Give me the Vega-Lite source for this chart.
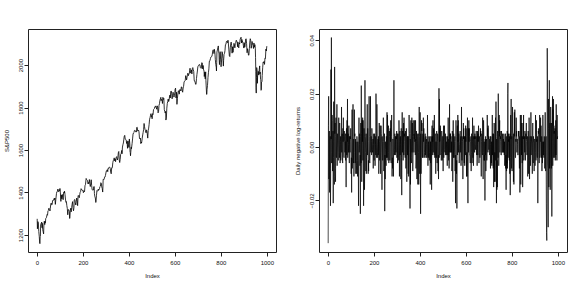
{
"$schema": "https://vega.github.io/schema/vega-lite/v6.json",
"padding": {"left": 2, "top": 28, "right": 0, "bottom": 0},
"spacing": 16,
"config": {
 "view": {"stroke": "#222", "strokeWidth": 1},
 "axis": {"domain": false, "grid": false, "ticks": true, "tickSize": 4, "tickColor": "#222", "tickWidth": 1, "labelFont": "Liberation Sans", "labelFontSize": 6, "labelColor": "#111", "titleFont": "Liberation Sans", "titleFontSize": 6, "titleFontWeight": "normal", "titleColor": "#111", "labelFlush": false, "labelOverlap": false}
},
"datasets": {
"price": [
{"i":1,"p":1276},{"i":2,"p":1229},{"i":4,"p":1263},{"i":6,"p":1257},{"i":8,"p":1216},{"i":10,"p":1193},{"i":12,"p":1161},{"i":13,"p":1159},{"i":14,"p":1192},{"i":15,"p":1195},{"i":16,"p":1247},
{"i":19,"p":1257},{"i":21,"p":1261},{"i":22,"p":1234},{"i":23,"p":1255},{"i":25,"p":1225},{"i":27,"p":1215},{"i":29,"p":1205},{"i":30,"p":1242},{"i":32,"p":1265},{"i":34,"p":1249},{"i":36,"p":1263},{"i":37,"p":1258},
{"i":38,"p":1277},{"i":41,"p":1281},{"i":44,"p":1296},{"i":46,"p":1293},{"i":48,"p":1314},{"i":50,"p":1316},{"i":52,"p":1326},{"i":54,"p":1318},{"i":57,"p":1313},
{"i":58,"p":1324},{"i":60,"p":1345},{"i":62,"p":1350},{"i":64,"p":1342},{"i":66,"p":1343},{"i":68,"p":1362},{"i":70,"p":1362},{"i":72,"p":1363},{"i":75,"p":1372},{"i":77,"p":1366},
{"i":78,"p":1374},{"i":80,"p":1344},{"i":82,"p":1366},{"i":85,"p":1396},{"i":87,"p":1404},{"i":89,"p":1405},{"i":91,"p":1416},{"i":93,"p":1406},{"i":95,"p":1403},{"i":97,"p":1413},{"i":99,"p":1408},
{"i":100,"p":1419},{"i":102,"p":1398},{"i":104,"p":1358},{"i":106,"p":1388},{"i":108,"p":1370},{"i":110,"p":1391},{"i":112,"p":1378},{"i":114,"p":1366},{"i":116,"p":1399},{"i":118,"p":1403},{"i":119,"p":1398},
{"i":120,"p":1406},{"i":122,"p":1391},{"i":124,"p":1369},{"i":126,"p":1354},{"i":128,"p":1357},{"i":130,"p":1338},{"i":132,"p":1325},{"i":134,"p":1295},{"i":136,"p":1318},{"i":138,"p":1320},{"i":140,"p":1313},{"i":141,"p":1310},
{"i":142,"p":1278},{"i":143,"p":1278},{"i":145,"p":1315},{"i":147,"p":1326},{"i":149,"p":1309},{"i":151,"p":1330},{"i":153,"p":1345},{"i":155,"p":1357},{"i":157,"p":1326},{"i":159,"p":1314},{"i":161,"p":1329},{"i":162,"p":1362},
{"i":163,"p":1366},{"i":165,"p":1367},{"i":167,"p":1352},{"i":169,"p":1341},{"i":171,"p":1356},{"i":173,"p":1374},{"i":175,"p":1363},{"i":177,"p":1338},{"i":179,"p":1386},{"i":181,"p":1385},{"i":183,"p":1379},
{"i":184,"p":1375},{"i":186,"p":1390},{"i":188,"p":1401},{"i":190,"p":1405},{"i":192,"p":1418},{"i":194,"p":1413},{"i":196,"p":1411},{"i":198,"p":1410},{"i":200,"p":1412},{"i":202,"p":1399},{"i":204,"p":1406},{"i":206,"p":1407},
{"i":207,"p":1404},{"i":209,"p":1432},{"i":211,"p":1437},{"i":214,"p":1466},{"i":216,"p":1461},{"i":218,"p":1459},{"i":220,"p":1456},{"i":222,"p":1441},{"i":224,"p":1447},{"i":225,"p":1441},
{"i":226,"p":1444},{"i":228,"p":1461},{"i":230,"p":1441},{"i":232,"p":1428},{"i":234,"p":1440},{"i":236,"p":1460},{"i":238,"p":1433},{"i":240,"p":1413},{"i":242,"p":1412},{"i":246,"p":1412},
{"i":247,"p":1427},{"i":249,"p":1428},{"i":250,"p":1395},{"i":252,"p":1380},{"i":254,"p":1374},{"i":256,"p":1353},{"i":257,"p":1359},{"i":259,"p":1387},{"i":261,"p":1409},{"i":263,"p":1406},{"i":265,"p":1409},{"i":267,"p":1416},
{"i":268,"p":1410},{"i":270,"p":1413},{"i":272,"p":1418},{"i":274,"p":1428},{"i":276,"p":1430},{"i":278,"p":1446},{"i":280,"p":1443},{"i":282,"p":1426},{"i":284,"p":1419},{"i":286,"p":1402},{"i":287,"p":1426},
{"i":288,"p":1462},{"i":290,"p":1461},{"i":292,"p":1461},{"i":294,"p":1472},{"i":296,"p":1472},{"i":298,"p":1480},{"i":300,"p":1492},{"i":302,"p":1502},{"i":304,"p":1500},{"i":306,"p":1507},{"i":308,"p":1498},
{"i":309,"p":1513},{"i":311,"p":1512},{"i":313,"p":1517},{"i":315,"p":1520},{"i":317,"p":1519},{"i":319,"p":1512},{"i":321,"p":1496},{"i":323,"p":1488},{"i":325,"p":1516},{"i":327,"p":1515},
{"i":328,"p":1518},{"i":330,"p":1540},{"i":332,"p":1551},{"i":334,"p":1552},{"i":336,"p":1563},{"i":338,"p":1549},{"i":340,"p":1558},{"i":342,"p":1545},{"i":344,"p":1563},{"i":347,"p":1569},
{"i":348,"p":1562},{"i":350,"p":1553},{"i":352,"p":1563},{"i":354,"p":1587},{"i":356,"p":1593},{"i":358,"p":1553},{"i":360,"p":1541},{"i":362,"p":1555},{"i":364,"p":1579},{"i":366,"p":1582},{"i":369,"p":1598},
{"i":370,"p":1582},{"i":372,"p":1614},{"i":374,"p":1625},{"i":376,"p":1633},{"i":378,"p":1651},{"i":380,"p":1666},{"i":382,"p":1669},{"i":384,"p":1650},{"i":386,"p":1650},{"i":388,"p":1648},{"i":390,"p":1631},{"i":391,"p":1631},
{"i":392,"p":1640},{"i":394,"p":1608},{"i":396,"p":1643},{"i":398,"p":1626},{"i":400,"p":1612},{"i":402,"p":1652},{"i":404,"p":1629},{"i":405,"p":1592},{"i":406,"p":1588},{"i":407,"p":1573},{"i":408,"p":1588},{"i":410,"p":1613},{"i":411,"p":1606},
{"i":412,"p":1614},{"i":414,"p":1631},{"i":416,"p":1652},{"i":418,"p":1675},{"i":420,"p":1680},{"i":422,"p":1682},{"i":424,"p":1692},{"i":426,"p":1692},{"i":428,"p":1691},{"i":430,"p":1685},{"i":432,"p":1686},{"i":433,"p":1685},
{"i":434,"p":1706},{"i":436,"p":1707},{"i":438,"p":1690},{"i":440,"p":1691},{"i":442,"p":1694},{"i":444,"p":1685},{"i":446,"p":1655},{"i":448,"p":1652},{"i":450,"p":1656},{"i":452,"p":1630},{"i":454,"p":1638},{"i":455,"p":1633},
{"i":456,"p":1639},{"i":458,"p":1656},{"i":460,"p":1671},{"i":462,"p":1683},{"i":464,"p":1697},{"i":466,"p":1725},{"i":468,"p":1710},{"i":470,"p":1697},{"i":472,"p":1692},{"i":474,"p":1682},{"i":475,"p":1681},
{"i":476,"p":1695},{"i":478,"p":1690},{"i":480,"p":1676},{"i":482,"p":1656},{"i":484,"p":1692},{"i":486,"p":1703},{"i":488,"p":1721},{"i":490,"p":1745},{"i":492,"p":1752},{"i":494,"p":1763},{"i":496,"p":1771},{"i":498,"p":1757},
{"i":499,"p":1762},{"i":501,"p":1747},{"i":503,"p":1771},{"i":505,"p":1767},{"i":507,"p":1790},{"i":509,"p":1792},{"i":511,"p":1795},{"i":513,"p":1804},{"i":515,"p":1802},{"i":517,"p":1807},{"i":518,"p":1806},
{"i":519,"p":1800},{"i":521,"p":1792},{"i":523,"p":1808},{"i":525,"p":1802},{"i":527,"p":1775},{"i":529,"p":1781},{"i":531,"p":1810},{"i":533,"p":1818},{"i":535,"p":1834},{"i":537,"p":1841},{"i":539,"p":1848},
{"i":540,"p":1832},{"i":542,"p":1838},{"i":544,"p":1838},{"i":546,"p":1819},{"i":548,"p":1848},{"i":550,"p":1838},{"i":552,"p":1843},{"i":554,"p":1790},{"i":556,"p":1782},{"i":558,"p":1774},{"i":560,"p":1782},
{"i":561,"p":1741},{"i":563,"p":1751},{"i":565,"p":1797},{"i":567,"p":1819},{"i":569,"p":1829},{"i":571,"p":1840},{"i":573,"p":1828},{"i":575,"p":1836},{"i":577,"p":1854},{"i":579,"p":1859},
{"i":580,"p":1845},{"i":582,"p":1874},{"i":584,"p":1878},{"i":586,"p":1868},{"i":588,"p":1841},{"i":590,"p":1858},{"i":592,"p":1872},{"i":594,"p":1866},{"i":596,"p":1849},{"i":598,"p":1857},{"i":600,"p":1872},
{"i":601,"p":1886},{"i":603,"p":1891},{"i":605,"p":1845},{"i":607,"p":1872},{"i":609,"p":1815},{"i":611,"p":1842},{"i":613,"p":1864},{"i":615,"p":1879},{"i":617,"p":1878},{"i":619,"p":1863},{"i":621,"p":1884},
{"i":622,"p":1884},{"i":624,"p":1884},{"i":626,"p":1878},{"i":628,"p":1897},{"i":630,"p":1897},{"i":632,"p":1878},{"i":634,"p":1872},{"i":636,"p":1892},{"i":638,"p":1900},{"i":640,"p":1920},{"i":642,"p":1924},
{"i":643,"p":1924},{"i":645,"p":1927},{"i":647,"p":1950},{"i":649,"p":1943},{"i":651,"p":1930},{"i":653,"p":1942},{"i":655,"p":1957},{"i":657,"p":1962},{"i":659,"p":1950},{"i":661,"p":1958},{"i":663,"p":1960},
{"i":664,"p":1973},{"i":666,"p":1985},{"i":668,"p":1963},{"i":670,"p":1964},{"i":672,"p":1977},{"i":674,"p":1958},{"i":676,"p":1983},{"i":678,"p":1988},{"i":680,"p":1978},{"i":682,"p":1970},{"i":684,"p":1930},{"i":685,"p":1925},
{"i":686,"p":1925},{"i":688,"p":1920},{"i":690,"p":1910},{"i":692,"p":1909},{"i":694,"p":1936},{"i":696,"p":1956},{"i":698,"p":1972},{"i":700,"p":1992},{"i":702,"p":1997},{"i":704,"p":1997},{"i":706,"p":2003},
{"i":707,"p":2002},{"i":709,"p":2001},{"i":711,"p":1988},{"i":713,"p":1985},{"i":715,"p":1985},{"i":717,"p":2011},{"i":719,"p":2010},{"i":721,"p":1982},{"i":723,"p":1998},{"i":725,"p":1977},{"i":727,"p":1972},
{"i":728,"p":1946},{"i":730,"p":1967},{"i":732,"p":1935},{"i":734,"p":1968},{"i":735,"p":1928},{"i":736,"p":1906},{"i":738,"p":1862},{"i":739,"p":1862},{"i":740,"p":1886},{"i":742,"p":1904},{"i":744,"p":1941},{"i":746,"p":1964},{"i":748,"p":1982},{"i":750,"p":2018},
{"i":751,"p":2017},{"i":753,"p":2023},{"i":755,"p":2031},{"i":757,"p":2038},{"i":759,"p":2040},{"i":761,"p":2041},{"i":763,"p":2051},{"i":765,"p":2069},{"i":767,"p":2072},{"i":769,"p":2067},
{"i":770,"p":2054},{"i":772,"p":2074},{"i":774,"p":2060},{"i":776,"p":2026},{"i":778,"p":2002},{"i":780,"p":1990},{"i":781,"p":1972},{"i":782,"p":2012},{"i":783,"p":2061},{"i":785,"p":2071},{"i":787,"p":2082},{"i":789,"p":2090},{"i":791,"p":2058},
{"i":792,"p":2058},{"i":793,"p":2021},{"i":794,"p":2002},{"i":795,"p":2026},{"i":797,"p":2063},{"i":799,"p":2028},{"i":800,"p":2011},{"i":801,"p":1992},{"i":803,"p":2019},{"i":805,"p":2063},{"i":807,"p":2057},{"i":809,"p":2030},{"i":811,"p":1995},
{"i":812,"p":2021},{"i":814,"p":2050},{"i":816,"p":2055},{"i":818,"p":2068},{"i":820,"p":2096},{"i":822,"p":2097},{"i":824,"p":2110},{"i":826,"p":2113},{"i":828,"p":2110},{"i":830,"p":2105},
{"i":831,"p":2117},{"i":833,"p":2099},{"i":835,"p":2071},{"i":837,"p":2044},{"i":839,"p":2040},{"i":841,"p":2081},{"i":843,"p":2099},{"i":845,"p":2108},{"i":847,"p":2091},{"i":849,"p":2056},{"i":851,"p":2086},{"i":852,"p":2068},
{"i":853,"p":2060},{"i":855,"p":2077},{"i":857,"p":2102},{"i":859,"p":2095},{"i":861,"p":2081},{"i":863,"p":2101},{"i":865,"p":2107},{"i":867,"p":2117},{"i":869,"p":2114},{"i":871,"p":2106},{"i":873,"p":2086},
{"i":874,"p":2108},{"i":876,"p":2089},{"i":878,"p":2081},{"i":880,"p":2105},{"i":882,"p":2099},{"i":884,"p":2121},{"i":886,"p":2127},{"i":888,"p":2131},{"i":890,"p":2104},{"i":892,"p":2120},{"i":893,"p":2107},
{"i":894,"p":2111},{"i":896,"p":2108},{"i":898,"p":2092},{"i":900,"p":2080},{"i":902,"p":2105},{"i":904,"p":2084},{"i":906,"p":2096},{"i":908,"p":2122},{"i":910,"p":2124},{"i":912,"p":2102},{"i":914,"p":2058},{"i":915,"p":2063},
{"i":916,"p":2077},{"i":918,"p":2068},{"i":920,"p":2047},{"i":922,"p":2046},{"i":924,"p":2077},{"i":926,"p":2108},{"i":928,"p":2124},{"i":930,"p":2115},{"i":932,"p":2079},{"i":934,"p":2093},{"i":936,"p":2111},{"i":937,"p":2104},
{"i":938,"p":2098},{"i":940,"p":2093},{"i":942,"p":2078},{"i":944,"p":2104},{"i":946,"p":2084},{"i":948,"p":2096},{"i":950,"p":2079},{"i":951,"p":2035},{"i":952,"p":1971},{"i":953,"p":1893},{"i":954,"p":1868},{"i":955,"p":1940},{"i":956,"p":1988},{"i":958,"p":1972},
{"i":959,"p":1914},{"i":960,"p":1949},{"i":961,"p":1952},{"i":963,"p":1970},{"i":965,"p":1953},{"i":967,"p":1978},{"i":969,"p":1996},{"i":970,"p":1958},{"i":971,"p":1967},{"i":973,"p":1932},{"i":974,"p":1931},{"i":975,"p":1881},{"i":976,"p":1884},{"i":977,"p":1920},{"i":979,"p":1923},
{"i":980,"p":1951},{"i":982,"p":1987},{"i":984,"p":2014},{"i":986,"p":2011},{"i":988,"p":2017},{"i":990,"p":2003},{"i":992,"p":2033},{"i":994,"p":2031},{"i":996,"p":2075},{"i":998,"p":2066},{"i":1000,"p":2089}
],
"ret": [
{"i":1,"r":-0.036},{"i":3,"r":0.019},{"i":5,"r":-0.005},{"i":7,"r":-0.017},{"i":9,"r":0.002},{"i":11,"r":-0.022},{"i":13,"r":0.029},{"i":15,"r":0.041},{"i":17,"r":-0.002},{"i":19,"r":0.010},{"i":21,"r":0.003},{"i":23,"r":-0.021},{"i":25,"r":0.017},{"i":27,"r":-0.011},{"i":29,"r":0.030},{"i":31,"r":0.009},{"i":33,"r":-0.013},{"i":35,"r":0.011},{"i":37,"r":-0.004},{"i":39,"r":0.016},
{"i":41,"r":0.000},{"i":43,"r":0.003},{"i":45,"r":-0.005},{"i":47,"r":0.011},{"i":49,"r":-0.002},{"i":51,"r":0.009},{"i":53,"r":-0.006},{"i":55,"r":0.004},{"i":57,"r":-0.003},{"i":59,"r":0.015},{"i":61,"r":0.004},{"i":63,"r":-0.004},{"i":65,"r":0.007},{"i":67,"r":0.011},{"i":69,"r":-0.003},{"i":71,"r":0.006},{"i":73,"r":0.002},{"i":75,"r":0.004},{"i":77,"r":-0.005},{"i":79,"r":-0.015},
{"i":81,"r":0.007},{"i":83,"r":0.010},{"i":85,"r":0.018},{"i":87,"r":0.003},{"i":89,"r":-0.002},{"i":91,"r":0.008},{"i":93,"r":-0.006},{"i":95,"r":0.001},{"i":97,"r":0.004},{"i":99,"r":0.007},{"i":101,"r":-0.010},{"i":103,"r":-0.017},{"i":105,"r":0.014},{"i":107,"r":-0.004},{"i":109,"r":0.016},{"i":111,"r":-0.006},{"i":113,"r":-0.011},{"i":115,"r":0.014},{"i":117,"r":0.005},{"i":119,"r":-0.005},
{"i":121,"r":-0.010},{"i":123,"r":-0.005},{"i":125,"r":-0.010},{"i":127,"r":0.002},{"i":129,"r":-0.011},{"i":131,"r":-0.003},{"i":133,"r":-0.022},{"i":135,"r":0.011},{"i":137,"r":0.001},{"i":139,"r":-0.007},{"i":141,"r":-0.025},{"i":143,"r":0.009},{"i":145,"r":0.023},{"i":147,"r":-0.013},{"i":149,"r":0.010},{"i":151,"r":0.011},{"i":153,"r":0.010},{"i":155,"r":-0.022},{"i":157,"r":0.007},{"i":159,"r":-0.016},
{"i":161,"r":0.025},{"i":163,"r":0.003},{"i":165,"r":-0.009},{"i":167,"r":-0.010},{"i":169,"r":0.000},{"i":171,"r":0.016},{"i":173,"r":0.007},{"i":175,"r":-0.010},{"i":177,"r":-0.009},{"i":179,"r":0.019},{"i":181,"r":-0.005},{"i":183,"r":-0.003},{"i":185,"r":0.019},{"i":187,"r":0.002},{"i":189,"r":0.002},{"i":191,"r":0.007},{"i":193,"r":-0.001},{"i":195,"r":0.001},{"i":197,"r":-0.008},{"i":199,"r":0.005},
{"i":201,"r":-0.005},{"i":203,"r":0.005},{"i":205,"r":-0.007},{"i":207,"r":0.001},{"i":209,"r":0.020},{"i":211,"r":-0.003},{"i":213,"r":0.016},{"i":215,"r":-0.004},{"i":217,"r":0.001},{"i":219,"r":-0.003},{"i":221,"r":-0.010},{"i":223,"r":0.009},{"i":225,"r":-0.005},{"i":227,"r":0.008},{"i":229,"r":-0.010},{"i":231,"r":0.008},{"i":233,"r":0.004},{"i":235,"r":-0.016},{"i":237,"r":0.002},{"i":239,"r":-0.004},
{"i":241,"r":0.011},{"i":243,"r":-0.009},{"i":245,"r":0.002},{"i":247,"r":-0.024},{"i":249,"r":-0.012},{"i":251,"r":-0.001},{"i":253,"r":-0.007},{"i":255,"r":-0.004},{"i":257,"r":0.013},{"i":259,"r":0.012},{"i":261,"r":-0.005},{"i":263,"r":0.008},{"i":265,"r":-0.006},{"i":267,"r":0.006},{"i":269,"r":-0.005},{"i":271,"r":0.007},{"i":273,"r":0.010},{"i":275,"r":-0.006},{"i":277,"r":0.012},{"i":279,"r":-0.011},
{"i":281,"r":-0.008},{"i":283,"r":0.003},{"i":285,"r":-0.011},{"i":287,"r":0.025},{"i":289,"r":-0.001},{"i":291,"r":0.005},{"i":293,"r":-0.003},{"i":295,"r":0.001},{"i":297,"r":0.004},{"i":299,"r":0.006},{"i":301,"r":0.002},{"i":303,"r":-0.006},{"i":305,"r":0.005},{"i":307,"r":-0.004},{"i":309,"r":0.010},{"i":311,"r":-0.011},{"i":313,"r":0.006},{"i":315,"r":0.001},{"i":317,"r":-0.012},{"i":319,"r":0.007},
{"i":321,"r":-0.018},{"i":323,"r":0.013},{"i":325,"r":0.006},{"i":327,"r":-0.005},{"i":329,"r":0.009},{"i":331,"r":0.011},{"i":333,"r":0.005},{"i":335,"r":-0.002},{"i":337,"r":0.006},{"i":339,"r":-0.008},{"i":341,"r":0.007},{"i":343,"r":-0.013},{"i":345,"r":0.004},{"i":347,"r":0.004},{"i":349,"r":-0.010},{"i":351,"r":-0.011},{"i":353,"r":0.012},{"i":355,"r":0.005},{"i":357,"r":-0.023},{"i":359,"r":-0.014},
{"i":361,"r":0.010},{"i":363,"r":-0.006},{"i":365,"r":0.011},{"i":367,"r":0.009},{"i":369,"r":-0.009},{"i":371,"r":0.010},{"i":373,"r":0.004},{"i":375,"r":0.005},{"i":377,"r":0.010},{"i":379,"r":0.003},{"i":381,"r":0.010},{"i":383,"r":-0.008},{"i":385,"r":0.006},{"i":387,"r":-0.012},{"i":389,"r":0.004},{"i":391,"r":-0.014},{"i":393,"r":0.005},{"i":395,"r":-0.014},{"i":397,"r":0.015},{"i":399,"r":-0.010},
{"i":401,"r":0.013},{"i":403,"r":-0.025},{"i":405,"r":-0.010},{"i":407,"r":0.010},{"i":409,"r":0.009},{"i":411,"r":-0.004},{"i":413,"r":0.005},{"i":415,"r":0.011},{"i":417,"r":0.007},{"i":419,"r":0.003},{"i":421,"r":-0.004},{"i":423,"r":0.005},{"i":425,"r":0.002},{"i":427,"r":-0.004},{"i":429,"r":0.003},{"i":431,"r":-0.004},{"i":433,"r":0.012},{"i":435,"r":-0.007},{"i":437,"r":0.002},{"i":439,"r":0.004},
{"i":441,"r":-0.005},{"i":443,"r":0.003},{"i":445,"r":-0.014},{"i":447,"r":-0.006},{"i":449,"r":0.004},{"i":451,"r":-0.016},{"i":453,"r":0.008},{"i":455,"r":0.004},{"i":457,"r":0.010},{"i":459,"r":0.007},{"i":461,"r":0.003},{"i":463,"r":0.012},{"i":465,"r":-0.004},{"i":467,"r":0.005},{"i":469,"r":-0.010},{"i":471,"r":-0.004},{"i":473,"r":0.006},{"i":475,"r":-0.006},{"i":477,"r":0.005},{"i":479,"r":-0.009},
{"i":481,"r":-0.012},{"i":483,"r":0.022},{"i":485,"r":0.018},{"i":487,"r":0.007},{"i":489,"r":0.008},{"i":491,"r":0.004},{"i":493,"r":-0.005},{"i":495,"r":0.006},{"i":497,"r":-0.005},{"i":499,"r":0.004},{"i":501,"r":-0.009},{"i":503,"r":0.008},{"i":505,"r":0.003},{"i":507,"r":0.008},{"i":509,"r":-0.002},{"i":511,"r":0.005},{"i":513,"r":0.002},{"i":515,"r":-0.003},{"i":517,"r":0.001},{"i":519,"r":-0.007},
{"i":521,"r":-0.003},{"i":523,"r":0.011},{"i":525,"r":-0.005},{"i":527,"r":-0.008},{"i":529,"r":0.016},{"i":531,"r":0.005},{"i":533,"r":0.005},{"i":535,"r":0.004},{"i":537,"r":-0.002},{"i":539,"r":-0.009},{"i":541,"r":0.006},{"i":543,"r":-0.013},{"i":545,"r":0.010},{"i":547,"r":0.005},{"i":549,"r":-0.004},{"i":551,"r":0.002},{"i":553,"r":-0.009},{"i":555,"r":-0.021},{"i":557,"r":0.010},{"i":559,"r":-0.010},
{"i":561,"r":-0.023},{"i":563,"r":0.008},{"i":565,"r":0.012},{"i":567,"r":0.010},{"i":569,"r":0.005},{"i":571,"r":-0.006},{"i":573,"r":0.001},{"i":575,"r":0.006},{"i":577,"r":0.003},{"i":579,"r":-0.007},{"i":581,"r":0.015},{"i":583,"r":-0.005},{"i":585,"r":0.003},{"i":587,"r":-0.012},{"i":589,"r":0.009},{"i":591,"r":0.007},{"i":593,"r":-0.006},{"i":595,"r":-0.007},{"i":597,"r":0.004},{"i":599,"r":0.008},
{"i":601,"r":0.007},{"i":603,"r":-0.011},{"i":605,"r":-0.011},{"i":607,"r":0.011},{"i":609,"r":-0.021},{"i":611,"r":0.007},{"i":613,"r":0.010},{"i":615,"r":0.007},{"i":617,"r":-0.003},{"i":619,"r":-0.006},{"i":621,"r":0.003},{"i":623,"r":-0.009},{"i":625,"r":0.005},{"i":627,"r":-0.006},{"i":629,"r":0.011},{"i":631,"r":-0.004},{"i":633,"r":-0.007},{"i":635,"r":0.008},{"i":637,"r":0.004},{"i":639,"r":0.005},
{"i":641,"r":0.004},{"i":643,"r":0.001},{"i":645,"r":0.006},{"i":647,"r":-0.003},{"i":649,"r":-0.007},{"i":651,"r":0.006},{"i":653,"r":0.005},{"i":655,"r":0.008},{"i":657,"r":-0.006},{"i":659,"r":0.004},{"i":661,"r":-0.004},{"i":663,"r":0.007},{"i":665,"r":0.006},{"i":667,"r":-0.011},{"i":669,"r":0.005},{"i":671,"r":-0.002},{"i":673,"r":0.011},{"i":675,"r":-0.012},{"i":677,"r":0.010},{"i":679,"r":-0.005},
{"i":681,"r":-0.005},{"i":683,"r":-0.020},{"i":685,"r":-0.003},{"i":687,"r":-0.009},{"i":689,"r":0.002},{"i":691,"r":-0.005},{"i":693,"r":0.012},{"i":695,"r":0.007},{"i":697,"r":0.008},{"i":699,"r":0.004},{"i":701,"r":0.001},{"i":703,"r":-0.003},{"i":705,"r":0.003},{"i":707,"r":-0.008},{"i":709,"r":0.004},{"i":711,"r":-0.006},{"i":713,"r":-0.007},{"i":715,"r":0.012},{"i":717,"r":0.005},{"i":719,"r":-0.008},
{"i":721,"r":-0.015},{"i":723,"r":0.009},{"i":725,"r":-0.013},{"i":727,"r":-0.013},{"i":729,"r":0.011},{"i":731,"r":0.017},{"i":733,"r":-0.021},{"i":735,"r":-0.016},{"i":737,"r":-0.015},{"i":739,"r":0.000},{"i":741,"r":0.020},{"i":743,"r":-0.007},{"i":745,"r":0.012},{"i":747,"r":0.010},{"i":749,"r":0.006},{"i":751,"r":0.004},{"i":753,"r":-0.003},{"i":755,"r":0.006},{"i":757,"r":0.002},{"i":759,"r":0.005},
{"i":761,"r":-0.002},{"i":763,"r":0.003},{"i":765,"r":0.005},{"i":767,"r":-0.003},{"i":769,"r":-0.007},{"i":771,"r":0.004},{"i":773,"r":-0.008},{"i":775,"r":-0.016},{"i":777,"r":-0.009},{"i":779,"r":-0.006},{"i":781,"r":-0.008},{"i":782,"r":0.020},{"i":783,"r":0.024},{"i":785,"r":0.005},{"i":787,"r":0.003},{"i":789,"r":-0.005},{"i":791,"r":-0.010},{"i":793,"r":-0.018},{"i":795,"r":0.012},{"i":797,"r":0.018},
{"i":799,"r":-0.008},{"i":801,"r":-0.009},{"i":803,"r":0.015},{"i":805,"r":0.005},{"i":807,"r":-0.013},{"i":809,"r":-0.014},{"i":811,"r":0.013},{"i":813,"r":0.014},{"i":815,"r":-0.004},{"i":817,"r":0.003},{"i":819,"r":0.011},{"i":821,"r":0.006},{"i":823,"r":0.003},{"i":825,"r":0.001},{"i":827,"r":-0.003},{"i":829,"r":0.006},{"i":831,"r":0.006},{"i":833,"r":-0.008},{"i":835,"r":-0.017},{"i":837,"r":0.012},
{"i":839,"r":-0.014},{"i":841,"r":0.012},{"i":843,"r":0.009},{"i":845,"r":-0.006},{"i":847,"r":-0.015},{"i":849,"r":0.009},{"i":851,"r":0.012},{"i":853,"r":-0.004},{"i":855,"r":0.004},{"i":857,"r":0.006},{"i":859,"r":-0.005},{"i":861,"r":0.005},{"i":863,"r":0.009},{"i":865,"r":-0.002},{"i":867,"r":0.003},{"i":869,"r":-0.011},{"i":871,"r":0.006},{"i":873,"r":-0.010},{"i":875,"r":0.011},{"i":877,"r":-0.012},
{"i":879,"r":0.004},{"i":881,"r":-0.007},{"i":883,"r":0.013},{"i":885,"r":0.004},{"i":887,"r":0.002},{"i":889,"r":-0.010},{"i":891,"r":0.009},{"i":893,"r":-0.006},{"i":895,"r":0.002},{"i":897,"r":-0.009},{"i":899,"r":0.003},{"i":901,"r":-0.007},{"i":903,"r":0.012},{"i":905,"r":-0.005},{"i":907,"r":0.010},{"i":909,"r":0.003},{"i":911,"r":-0.004},{"i":913,"r":-0.021},{"i":915,"r":0.006},{"i":917,"r":0.007},
{"i":919,"r":-0.006},{"i":921,"r":0.012},{"i":923,"r":-0.003},{"i":925,"r":0.011},{"i":927,"r":0.008},{"i":929,"r":-0.004},{"i":931,"r":-0.009},{"i":933,"r":-0.006},{"i":935,"r":0.012},{"i":937,"r":-0.003},{"i":939,"r":-0.003},{"i":941,"r":0.004},{"i":943,"r":-0.008},{"i":945,"r":0.013},{"i":947,"r":-0.009},{"i":949,"r":0.004},{"i":950,"r":-0.021},{"i":951,"r":-0.032},{"i":952,"r":-0.035},{"i":953,"r":-0.014},
{"i":954,"r":0.037},{"i":955,"r":0.024},{"i":957,"r":-0.008},{"i":958,"r":-0.030},{"i":959,"r":0.018},{"i":961,"r":-0.015},{"i":963,"r":0.025},{"i":965,"r":0.005},{"i":967,"r":-0.016},{"i":969,"r":0.015},{"i":971,"r":-0.005},{"i":973,"r":0.009},{"i":974,"r":-0.026},{"i":975,"r":0.002},{"i":977,"r":0.019},{"i":979,"r":0.014},{"i":981,"r":0.018},{"i":983,"r":0.008},{"i":985,"r":0.006},{"i":987,"r":-0.004},
{"i":989,"r":-0.005},{"i":991,"r":0.010},{"i":993,"r":0.016},{"i":995,"r":0.006},{"i":997,"r":0.012},{"i":999,"r":0.004},
{"i":2,"r":0.008},{"i":4,"r":-0.012},{"i":6,"r":0.006},{"i":8,"r":-0.009},{"i":10,"r":0.004},{"i":12,"r":-0.008},{"i":14,"r":0.003},{"i":16,"r":-0.006},{"i":18,"r":0.012},{"i":20,"r":-0.009},{"i":22,"r":0.006},{"i":24,"r":-0.004},{"i":26,"r":0.002},{"i":28,"r":-0.014},{"i":30,"r":0.005},{"i":32,"r":-0.008},{"i":34,"r":0.004},{"i":36,"r":-0.003},{"i":38,"r":0.006},{"i":40,"r":-0.007},
{"i":42,"r":0.005},{"i":44,"r":-0.002},{"i":46,"r":0.006},{"i":48,"r":0.001},{"i":50,"r":-0.004},{"i":52,"r":0.003},{"i":54,"r":0.002},{"i":56,"r":-0.005},{"i":58,"r":0.004},{"i":60,"r":-0.002},{"i":62,"r":0.005},{"i":64,"r":-0.006},{"i":66,"r":0.002},{"i":68,"r":0.004},{"i":70,"r":-0.004},{"i":72,"r":0.003},{"i":74,"r":-0.002},{"i":76,"r":0.005},{"i":78,"r":0.002},{"i":80,"r":0.006},
{"i":82,"r":-0.003},{"i":84,"r":0.002},{"i":86,"r":-0.004},{"i":88,"r":0.005},{"i":90,"r":0.001},{"i":92,"r":-0.003},{"i":94,"r":0.004},{"i":96,"r":-0.002},{"i":98,"r":0.003},{"i":100,"r":0.002},{"i":102,"r":-0.004},{"i":104,"r":0.006},{"i":106,"r":-0.008},{"i":108,"r":0.004},{"i":110,"r":-0.005},{"i":112,"r":0.003},{"i":114,"r":-0.002},{"i":116,"r":0.004},{"i":118,"r":-0.006},{"i":120,"r":0.003},
{"i":122,"r":0.002},{"i":124,"r":-0.007},{"i":126,"r":0.004},{"i":128,"r":-0.005},{"i":130,"r":0.002},{"i":132,"r":-0.006},{"i":134,"r":0.004},{"i":136,"r":-0.002},{"i":138,"r":0.005},{"i":140,"r":-0.003},{"i":142,"r":0.004},{"i":144,"r":-0.006},{"i":146,"r":0.005},{"i":148,"r":-0.004},{"i":150,"r":0.002},{"i":152,"r":-0.005},{"i":154,"r":0.006},{"i":156,"r":-0.003},{"i":158,"r":0.004},{"i":160,"r":-0.006},
{"i":162,"r":0.004},{"i":164,"r":-0.002},{"i":166,"r":0.005},{"i":168,"r":-0.004},{"i":170,"r":0.006},{"i":172,"r":-0.003},{"i":174,"r":0.003},{"i":176,"r":-0.005},{"i":178,"r":0.002},{"i":180,"r":0.004},{"i":182,"r":-0.006},{"i":184,"r":0.003},{"i":186,"r":-0.002},{"i":188,"r":0.004},{"i":190,"r":-0.003},{"i":192,"r":0.005},{"i":194,"r":-0.002},{"i":196,"r":0.003},{"i":198,"r":0.001},{"i":200,"r":-0.004},
{"i":202,"r":0.003},{"i":204,"r":-0.002},{"i":206,"r":0.004},{"i":208,"r":-0.003},{"i":210,"r":0.005},{"i":212,"r":-0.004},{"i":214,"r":0.006},{"i":216,"r":-0.002},{"i":218,"r":0.003},{"i":220,"r":0.004},{"i":222,"r":-0.006},{"i":224,"r":0.002},{"i":226,"r":-0.003},{"i":228,"r":0.004},{"i":230,"r":-0.002},{"i":232,"r":0.005},{"i":234,"r":-0.003},{"i":236,"r":0.004},{"i":238,"r":-0.005},{"i":240,"r":0.003},
{"i":242,"r":0.002},{"i":244,"r":-0.004},{"i":246,"r":0.005},{"i":248,"r":-0.003},{"i":250,"r":0.002},{"i":252,"r":-0.005},{"i":254,"r":0.004},{"i":256,"r":0.003},{"i":258,"r":-0.004},{"i":260,"r":0.002},{"i":262,"r":0.005},{"i":264,"r":-0.002},{"i":266,"r":0.003},{"i":268,"r":0.004},{"i":270,"r":-0.003},{"i":272,"r":0.002},{"i":274,"r":-0.005},{"i":276,"r":0.004},{"i":278,"r":0.002},{"i":280,"r":-0.004},
{"i":282,"r":0.003},{"i":284,"r":-0.002},{"i":286,"r":0.004},{"i":288,"r":0.006},{"i":290,"r":-0.003},{"i":292,"r":0.002},{"i":294,"r":0.004},{"i":296,"r":-0.002},{"i":298,"r":0.003},{"i":300,"r":-0.004},{"i":302,"r":0.005},{"i":304,"r":0.001},{"i":306,"r":0.003},{"i":308,"r":-0.005},{"i":310,"r":0.004},{"i":312,"r":0.002},{"i":314,"r":-0.003},{"i":316,"r":0.004},{"i":318,"r":0.002},{"i":320,"r":-0.004},
{"i":322,"r":0.003},{"i":324,"r":-0.002},{"i":326,"r":0.005},{"i":328,"r":0.001},{"i":330,"r":-0.003},{"i":332,"r":0.004},{"i":334,"r":0.002},{"i":336,"r":-0.004},{"i":338,"r":0.003},{"i":340,"r":-0.002},{"i":342,"r":0.004},{"i":344,"r":0.001},{"i":346,"r":-0.003},{"i":348,"r":0.002},{"i":350,"r":0.004},{"i":352,"r":-0.003},{"i":354,"r":0.006},{"i":356,"r":-0.002},{"i":358,"r":0.003},{"i":360,"r":0.005},
{"i":362,"r":-0.004},{"i":364,"r":0.003},{"i":366,"r":-0.002},{"i":368,"r":0.004},{"i":370,"r":-0.003},{"i":372,"r":0.005},{"i":374,"r":-0.002},{"i":376,"r":0.003},{"i":378,"r":0.002},{"i":380,"r":-0.003},{"i":382,"r":0.004},{"i":384,"r":-0.005},{"i":386,"r":0.002},{"i":388,"r":0.005},{"i":390,"r":-0.003},{"i":392,"r":0.004},{"i":394,"r":-0.002},{"i":396,"r":0.003},{"i":398,"r":0.004},{"i":400,"r":-0.006},
{"i":402,"r":0.003},{"i":404,"r":0.005},{"i":406,"r":-0.004},{"i":408,"r":0.006},{"i":410,"r":-0.002},{"i":412,"r":0.003},{"i":414,"r":-0.004},{"i":416,"r":0.002},{"i":418,"r":0.004},{"i":420,"r":-0.002},{"i":422,"r":0.003},{"i":424,"r":-0.003},{"i":426,"r":0.004},{"i":428,"r":0.001},{"i":430,"r":0.002},{"i":432,"r":-0.003},{"i":434,"r":0.004},{"i":436,"r":0.001},{"i":438,"r":-0.004},{"i":440,"r":0.003},
{"i":442,"r":-0.002},{"i":444,"r":0.004},{"i":446,"r":0.002},{"i":448,"r":-0.004},{"i":450,"r":0.003},{"i":452,"r":0.005},{"i":454,"r":-0.003},{"i":456,"r":0.002},{"i":458,"r":-0.002},{"i":460,"r":0.004},{"i":462,"r":-0.003},{"i":464,"r":0.002},{"i":466,"r":0.004},{"i":468,"r":-0.003},{"i":470,"r":0.002},{"i":472,"r":-0.004},{"i":474,"r":0.003},{"i":476,"r":0.002},{"i":478,"r":0.004},{"i":480,"r":-0.003},
{"i":482,"r":0.005},{"i":484,"r":-0.004},{"i":486,"r":0.002},{"i":488,"r":-0.003},{"i":490,"r":0.004},{"i":492,"r":0.002},{"i":494,"r":-0.002},{"i":496,"r":0.003},{"i":498,"r":-0.003},{"i":500,"r":0.004},{"i":502,"r":0.002},{"i":504,"r":-0.004},{"i":506,"r":0.003},{"i":508,"r":-0.001},{"i":510,"r":0.003},{"i":512,"r":-0.003},{"i":514,"r":0.004},{"i":516,"r":0.002},{"i":518,"r":-0.002},{"i":520,"r":0.004},
{"i":522,"r":-0.003},{"i":524,"r":0.002},{"i":526,"r":0.003},{"i":528,"r":-0.004},{"i":530,"r":-0.002},{"i":532,"r":0.003},{"i":534,"r":-0.002},{"i":536,"r":0.004},{"i":538,"r":0.002},{"i":540,"r":-0.004},{"i":542,"r":0.003},{"i":544,"r":0.002},{"i":546,"r":-0.004},{"i":548,"r":0.003},{"i":550,"r":-0.002},{"i":552,"r":0.004},{"i":554,"r":-0.003},{"i":556,"r":0.002},{"i":558,"r":0.004},{"i":560,"r":-0.005},
{"i":562,"r":0.004},{"i":564,"r":-0.003},{"i":566,"r":0.002},{"i":568,"r":-0.002},{"i":570,"r":0.004},{"i":572,"r":-0.003},{"i":574,"r":0.002},{"i":576,"r":-0.002},{"i":578,"r":0.004},{"i":580,"r":0.002},{"i":582,"r":-0.003},{"i":584,"r":0.004},{"i":586,"r":0.002},{"i":588,"r":-0.004},{"i":590,"r":0.003},{"i":592,"r":-0.002},{"i":594,"r":0.004},{"i":596,"r":0.002},{"i":598,"r":-0.003},{"i":600,"r":0.002},
{"i":602,"r":0.004},{"i":604,"r":-0.002},{"i":606,"r":0.003},{"i":608,"r":-0.004},{"i":610,"r":0.005},{"i":612,"r":-0.002},{"i":614,"r":0.002},{"i":616,"r":0.004},{"i":618,"r":-0.003},{"i":620,"r":0.002},{"i":622,"r":0.004},{"i":624,"r":-0.002},{"i":626,"r":0.003},{"i":628,"r":-0.003},{"i":630,"r":0.002},{"i":632,"r":0.004},{"i":634,"r":-0.002},{"i":636,"r":0.003},{"i":638,"r":-0.002},{"i":640,"r":0.003},
{"i":642,"r":-0.001},{"i":644,"r":0.003},{"i":646,"r":-0.002},{"i":648,"r":0.004},{"i":650,"r":0.001},{"i":652,"r":-0.003},{"i":654,"r":0.002},{"i":656,"r":0.003},{"i":658,"r":-0.002},{"i":660,"r":0.003},{"i":662,"r":-0.002},{"i":664,"r":0.004},{"i":666,"r":-0.003},{"i":668,"r":0.002},{"i":670,"r":0.004},{"i":672,"r":-0.003},{"i":674,"r":0.003},{"i":676,"r":-0.002},{"i":678,"r":0.004},{"i":680,"r":0.002},
{"i":682,"r":-0.003},{"i":684,"r":0.003},{"i":686,"r":0.004},{"i":688,"r":-0.003},{"i":690,"r":0.003},{"i":692,"r":-0.002},{"i":694,"r":0.004},{"i":696,"r":-0.002},{"i":698,"r":0.003},{"i":700,"r":-0.001},{"i":702,"r":0.003},{"i":704,"r":-0.002},{"i":706,"r":0.004},{"i":708,"r":0.001},{"i":710,"r":-0.003},{"i":712,"r":0.002},{"i":714,"r":0.004},{"i":716,"r":-0.003},{"i":718,"r":0.003},{"i":720,"r":0.005},
{"i":722,"r":-0.004},{"i":724,"r":0.005},{"i":726,"r":-0.002},{"i":728,"r":0.006},{"i":730,"r":-0.005},{"i":732,"r":0.004},{"i":734,"r":0.003},{"i":736,"r":-0.005},{"i":738,"r":0.006},{"i":740,"r":-0.004},{"i":742,"r":0.005},{"i":744,"r":-0.003},{"i":746,"r":0.004},{"i":748,"r":-0.002},{"i":750,"r":0.003},{"i":752,"r":0.002},{"i":754,"r":-0.003},{"i":756,"r":0.004},{"i":758,"r":-0.002},{"i":760,"r":0.003},
{"i":762,"r":0.001},{"i":764,"r":-0.002},{"i":766,"r":0.003},{"i":768,"r":0.002},{"i":770,"r":-0.004},{"i":772,"r":0.005},{"i":774,"r":-0.003},{"i":776,"r":0.004},{"i":778,"r":-0.005},{"i":780,"r":0.006},{"i":784,"r":-0.004},{"i":786,"r":0.002},{"i":788,"r":-0.003},{"i":790,"r":0.004},{"i":792,"r":0.005},{"i":794,"r":-0.004},{"i":796,"r":0.003},{"i":798,"r":-0.006},{"i":800,"r":0.004},{"i":802,"r":-0.003},
{"i":804,"r":0.006},{"i":806,"r":-0.004},{"i":808,"r":0.005},{"i":810,"r":-0.003},{"i":812,"r":0.004},{"i":814,"r":0.003},{"i":816,"r":-0.004},{"i":818,"r":0.002},{"i":820,"r":0.004},{"i":822,"r":-0.002},{"i":824,"r":0.003},{"i":826,"r":-0.003},{"i":828,"r":0.002},{"i":830,"r":0.004},{"i":832,"r":-0.003},{"i":834,"r":0.004},{"i":836,"r":-0.005},{"i":838,"r":0.003},{"i":840,"r":0.004},{"i":842,"r":-0.003},
{"i":844,"r":0.002},{"i":846,"r":0.004},{"i":848,"r":-0.004},{"i":850,"r":0.003},{"i":852,"r":-0.005},{"i":854,"r":0.003},{"i":856,"r":-0.002},{"i":858,"r":0.004},{"i":860,"r":-0.002},{"i":862,"r":0.003},{"i":864,"r":0.002},{"i":866,"r":-0.003},{"i":868,"r":0.004},{"i":870,"r":-0.002},{"i":872,"r":0.004},{"i":874,"r":-0.004},{"i":876,"r":0.003},{"i":878,"r":-0.002},{"i":880,"r":0.004},{"i":882,"r":0.002},
{"i":884,"r":-0.003},{"i":886,"r":0.002},{"i":888,"r":-0.002},{"i":890,"r":0.003},{"i":892,"r":-0.003},{"i":894,"r":0.004},{"i":896,"r":0.002},{"i":898,"r":-0.003},{"i":900,"r":0.003},{"i":902,"r":-0.002},{"i":904,"r":0.004},{"i":906,"r":-0.003},{"i":908,"r":0.002},{"i":910,"r":-0.003},{"i":912,"r":0.004},{"i":914,"r":-0.004},{"i":916,"r":0.005},{"i":918,"r":-0.002},{"i":920,"r":0.003},{"i":922,"r":-0.004},
{"i":924,"r":0.003},{"i":926,"r":0.002},{"i":928,"r":-0.003},{"i":930,"r":0.004},{"i":932,"r":0.002},{"i":934,"r":-0.003},{"i":936,"r":0.004},{"i":938,"r":0.002},{"i":940,"r":-0.004},{"i":942,"r":0.003},{"i":944,"r":-0.002},{"i":946,"r":0.004},{"i":948,"r":-0.003},{"i":956,"r":-0.006},{"i":960,"r":0.007},{"i":962,"r":-0.006},{"i":964,"r":-0.008},{"i":966,"r":0.009},{"i":968,"r":-0.006},{"i":970,"r":0.007},
{"i":972,"r":-0.008},{"i":976,"r":0.006},{"i":978,"r":-0.007},{"i":980,"r":0.008},{"i":982,"r":-0.004},{"i":984,"r":0.005},{"i":986,"r":-0.003},{"i":988,"r":0.007},{"i":990,"r":-0.004},{"i":992,"r":-0.003},{"i":994,"r":0.006},{"i":996,"r":-0.005},{"i":998,"r":0.003}
]
},
"hconcat": [
 {
  "width": 248, "height": 223,
  "data": {"name": "price"},
  "mark": {"type": "line", "color": "black", "strokeWidth": 0.8},
  "encoding": {
   "x": {"field": "i", "type": "quantitative", "scale": {"domain": [-38.96, 1039.96], "nice": false, "zero": false}, "axis": {"values": [0, 200, 400, 600, 800, 1000], "format": "d", "title": "Index", "labelPadding": 3, "titlePadding": 7}},
   "y": {"field": "p", "type": "quantitative", "scale": {"domain": [1119.8, 2169.7], "nice": false, "zero": false}, "axis": {"values": [1200, 1400, 1600, 1800, 2000], "format": "d", "title": "S&P500", "labelAngle": -90, "labelAlign": "center", "labelBaseline": "bottom", "labelPadding": 1, "titlePadding": 8}}
  }
 },
 {
  "width": 248, "height": 223,
  "data": {"name": "ret"},
  "mark": {"type": "line", "color": "black", "strokeWidth": 0.7},
  "encoding": {
   "x": {"field": "i", "type": "quantitative", "scale": {"domain": [-38.96, 1039.96], "nice": false, "zero": false}, "axis": {"values": [0, 200, 400, 600, 800, 1000], "format": "d", "title": "Index", "labelPadding": 3, "titlePadding": 7}},
   "y": {"field": "r", "type": "quantitative", "scale": {"domain": [-0.0393, 0.0442], "nice": false, "zero": false}, "axis": {"values": [-0.02, 0, 0.02, 0.04], "format": ".2f", "title": "Daily negative log-returns", "labelAngle": -90, "labelAlign": "center", "labelBaseline": "bottom", "labelPadding": 1, "titlePadding": 8}}
  }
 }
]
}
